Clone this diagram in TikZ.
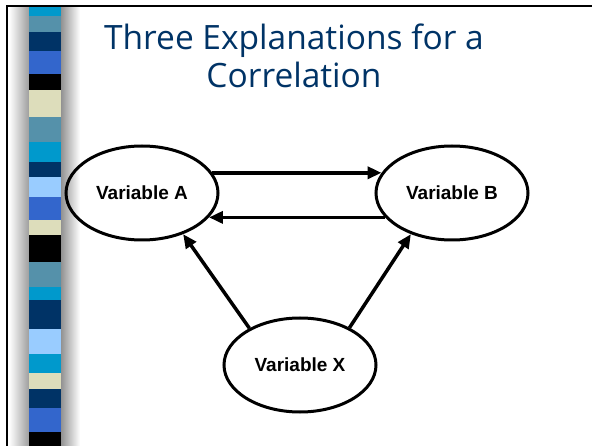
\documentclass[tikz,border=0pt]{standalone}
\usepackage{fontspec}
\setmainfont{Liberation Sans}
\newfontfamily\titlefont{Open Sans}
\definecolor{blcyan}{RGB}{0,153,204}
\definecolor{blsteel}{RGB}{85,145,170}
\definecolor{blnavy}{RGB}{0,51,102}
\definecolor{blroyal}{RGB}{51,102,204}
\definecolor{blkhaki}{RGB}{221,221,187}
\definecolor{bllight}{RGB}{153,204,255}
\usetikzlibrary{arrows.meta,positioning,shapes.geometric}

\begin{document}
\begin{tikzpicture}[x=1pt,y=-1pt,
  var/.style={draw,ellipse,line width=3pt,minimum width=152pt,minimum height=94pt,inner sep=0pt,font=\fontsize{19}{22}\selectfont\bfseries},
  arr/.style={-{Triangle[length=14pt,width=12pt]},line width=3.5pt},
  title/.style={font=\titlefont\fontsize{33.5}{38}\selectfont,blnavy,anchor=base}]
  \useasboundingbox (0,0) rectangle (592,446);
  % Side bar: grey shading with coloured stripes
  \shade[left color=white,right color=gray!80] (9,6) rectangle (30,446);
  \shade[left color=gray!90,right color=white] (60,6) rectangle (80,446);
  \foreach \top/\bot/\col in {6/16/blcyan,16/32/blsteel,32/51/blnavy,51/74/blroyal,74/90/black,
    90/117/blkhaki,117/142/blsteel,142/162/blcyan,162/177/blnavy,177/197/bllight,197/220/blroyal,
    220/235/blkhaki,235/262/black,262/287/blsteel,287/300/blcyan,300/329/blnavy,329/354/bllight,
    354/373/blcyan,373/389/blkhaki,389/408/blnavy,408/432/blroyal,432/446/black}
    \fill[\col] (29,\top) rectangle (61,\bot);
  % Frame
  \draw[line width=2pt] (7,446) -- (7,6) -- (592,6);
  % Title
  \node[title] (title) at (294,50) {Three Explanations for a};
  \node[title] (title2) at (294,88) {Correlation};
  % Variables
  \node[var] (a) at (142,193) {Variable A};
  \node[var] (b) at (452,193) {Variable B};
  \node[var] (x) at (300,365) {Variable X};
  % Causal arrows
  \draw[arr] (a.16) -- (b.164);
  \draw[arr] (b.-160) -- (a.-20);
  \draw[arr] (x.144) -- (a.-45);
  \draw[arr] (x.37) -- (b.-135);
\end{tikzpicture}
\end{document}
